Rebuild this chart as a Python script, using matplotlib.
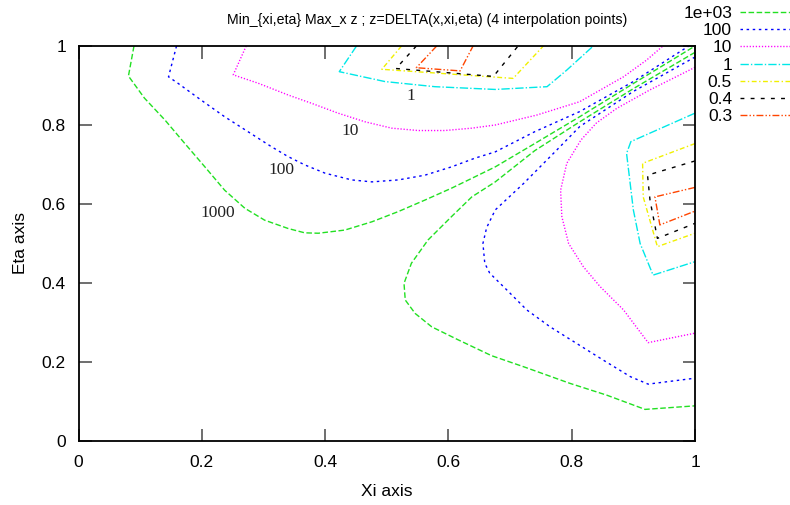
import matplotlib
matplotlib.use("Agg")
import matplotlib.pyplot as plt

# contour levels, legend text and label positions
levels = ["1e+03", "100", "10", "1", "0.5", "0.4", "0.3"]
label_text = ["1000", "100", "10", "1"]
label_xi = [0.2255, 0.330, 0.440, 0.539]
label_eta = [0.576, 0.686, 0.786, 0.873]

# contour polylines (xi, eta)
c1000_a = [(0.090, 1.0), (0.081, 0.924), (0.107, 0.868), (0.140, 0.813), (0.172, 0.754),
           (0.205, 0.694), (0.237, 0.635), (0.270, 0.589), (0.302, 0.559), (0.340, 0.538),
           (0.367, 0.527), (0.389, 0.526), (0.432, 0.534), (0.476, 0.555), (0.519, 0.581),
           (0.562, 0.610), (0.605, 0.640), (0.638, 0.665), (0.676, 0.694), (0.740, 0.753),
           (0.813, 0.821), (0.900, 0.905), (1.0, 1.0)]
c1000_b = [(1.0, 0.984), (0.900, 0.892), (0.813, 0.808), (0.740, 0.735), (0.676, 0.656),
           (0.638, 0.618), (0.605, 0.568), (0.567, 0.509), (0.540, 0.450), (0.528, 0.399),
           (0.530, 0.357), (0.546, 0.323), (0.573, 0.289), (0.616, 0.256), (0.670, 0.216),
           (0.722, 0.188), (0.797, 0.146), (0.857, 0.116), (0.919, 0.080), (1.0, 0.089)]

c100_a = [(0.159, 1.0), (0.146, 0.922), (0.161, 0.906), (0.199, 0.863), (0.237, 0.821),
          (0.275, 0.783), (0.313, 0.745), (0.340, 0.720), (0.367, 0.699), (0.400, 0.678),
          (0.443, 0.661), (0.476, 0.656), (0.519, 0.661), (0.562, 0.673), (0.605, 0.694),
          (0.643, 0.716), (0.676, 0.732), (0.740, 0.783), (0.813, 0.834), (0.900, 0.910),
          (0.990, 1.0)]
c100_b = [(1.0, 0.972), (0.900, 0.885), (0.813, 0.796), (0.776, 0.737), (0.722, 0.652),
          (0.676, 0.585), (0.662, 0.540), (0.656, 0.500), (0.659, 0.450), (0.667, 0.425),
          (0.695, 0.382), (0.727, 0.332), (0.765, 0.289), (0.808, 0.247), (0.851, 0.205),
          (0.895, 0.163), (0.924, 0.144), (1.0, 0.159)]

c10_a = [(0.272, 1.0), (0.251, 0.927), (0.291, 0.906), (0.340, 0.876), (0.378, 0.855),
         (0.421, 0.830), (0.465, 0.808), (0.508, 0.792), (0.551, 0.786), (0.594, 0.786),
         (0.638, 0.792), (0.676, 0.800), (0.743, 0.825), (0.813, 0.859), (0.884, 0.922),
         (0.922, 0.965), (0.948, 1.0)]
c10_b = [(1.0, 0.946), (0.927, 0.889), (0.873, 0.842), (0.840, 0.805), (0.815, 0.762),
         (0.792, 0.703), (0.782, 0.635), (0.784, 0.568), (0.795, 0.500), (0.819, 0.441),
         (0.846, 0.391), (0.884, 0.332), (0.924, 0.249), (1.0, 0.273)]

c1_a = [(0.451, 1.0), (0.423, 0.935), (0.497, 0.910), (0.578, 0.897), (0.676, 0.890),
        (0.760, 0.897), (0.792, 0.939), (0.835, 1.0)]
c1_b = [(1.0, 0.830), (0.896, 0.758), (0.889, 0.728), (0.900, 0.585), (0.911, 0.500),
        (0.932, 0.420), (1.0, 0.454)]

c05_a = [(0.524, 1.0), (0.492, 0.941), (0.705, 0.918), (0.754, 1.0)]
c05_b = [(1.0, 0.753), (0.915, 0.703), (0.916, 0.618), (0.939, 0.492), (1.0, 0.526)]

c04_a = [(0.548, 1.0), (0.515, 0.943), (0.673, 0.923), (0.713, 1.0)]
c04_b = [(1.0, 0.709), (0.923, 0.673), (0.927, 0.610), (0.939, 0.513), (1.0, 0.551)]

c03_a = [(0.581, 1.0), (0.548, 0.945), (0.619, 0.937), (0.640, 1.0)]
c03_b = [(1.0, 0.642), (0.935, 0.618), (0.943, 0.547), (1.0, 0.582)]

segments = [[c1000_a, c1000_b], [c100_a, c100_b], [c10_a, c10_b], [c1_a, c1_b],
            [c05_a, c05_b], [c04_a, c04_b], [c03_a, c03_b]]

# gnuplot-ish line types
colors = ["#22e022", "#0000ff", "#ff00ff", "#00e8e8", "#f0f000", "#000000", "#ff4500"]
dashes = [(4, 1.8), (1.8, 2.6), (0.9, 1.3), (6, 1.5, 1, 1.5), (3.5, 1.8, 1, 1.8),
          (2.8, 4.5), (5, 1.5, 1, 1.5, 1, 1.5)]

sans = "Liberation Sans"
serif = "Liberation Serif"
fs = 12.5

fig = plt.figure(figsize=(7.9, 5.05), dpi=100)
ax = fig.add_axes([78.5 / 790, 64 / 505, 616.5 / 790, 395 / 505])

for lev, segs, col, ds in zip(levels, segments, colors, dashes):
    for i, seg in enumerate(segs):
        xs = [p[0] for p in seg]
        ys = [p[1] for p in seg]
        ax.plot(xs, ys, color=col, lw=1.0, dashes=ds, label=lev if i == 0 else None)

for t, x, y in zip(label_text, label_xi, label_eta):
    ax.text(x, y, t, ha="center", va="center", fontsize=12.5, family=serif, color="#222222")

ax.set_xlim(0, 1)
ax.set_ylim(0, 1)
ticks = [0, 0.2, 0.4, 0.6, 0.8, 1]
ticklab = ["0", "0.2", "0.4", "0.6", "0.8", "1"]
ax.set_xticks(ticks)
ax.set_xticklabels(ticklab, family=sans, fontsize=fs)
ax.set_yticks(ticks)
ax.set_yticklabels(ticklab, family=sans, fontsize=fs)
ax.tick_params(direction="in", length=9, width=1.2, top=True, right=True,
               color="#555555", labelcolor="black")
ax.tick_params(axis="x", pad=10)
ax.tick_params(axis="y", pad=9)
for sp in ax.spines.values():
    sp.set_linewidth(1.3)
    sp.set_color("black")

ax.set_xlabel("Xi axis", family=sans, fontsize=fs, labelpad=10.5)
ax.set_ylabel("Eta axis", family=sans, fontsize=fs, labelpad=10)
fig.text(427 / 790, 1 - 20 / 505, "Min_{xi,eta} Max_x z ; z=DELTA(x,xi,eta) (4 interpolation points)",
         ha="center", va="center", family=sans, fontsize=10.2)

leg = ax.legend(loc="upper right", bbox_to_anchor=(792 / 790, 0.9884), bbox_transform=fig.transFigure,
                frameon=False, markerfirst=False, handlelength=3.0, handletextpad=0.45,
                labelspacing=0.12, borderpad=0, borderaxespad=0, prop={"family": sans, "size": fs})

fig.savefig("out.png", dpi=100)
